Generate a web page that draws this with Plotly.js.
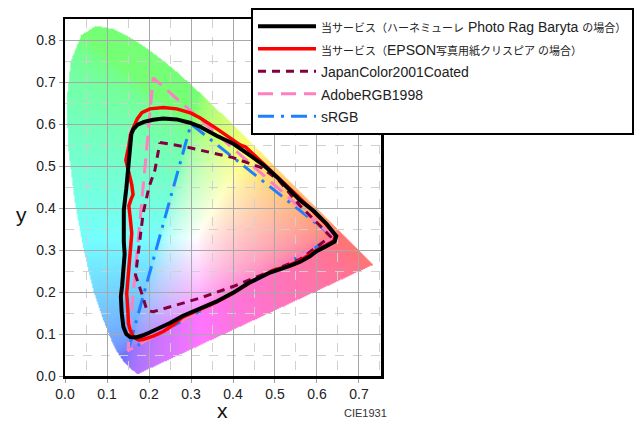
<!DOCTYPE html>
<html>
<head>
<meta charset="utf-8">
<script src="https://cdn.plot.ly/plotly-3.0.1.min.js"></script>
<style>html,body{margin:0;padding:0;background:#fff;}#chart{width:640px;height:425px;}</style>
</head>
<body>
<div id="chart"></div>
<script>
// ---- Data ----
// CIE 1931 spectral locus (chromaticity x, y)
const LOCUS_X = [0.1741,0.1733,0.1714,0.1689,0.1644,0.1566,0.1510,0.1440,0.1355,0.1241,0.1096,0.0913,0.0687,0.0454,0.0235,0.0082,0.0039,0.0139,0.0389,0.0743,0.1142,0.1547,0.1929,0.2296,0.2658,0.3016,0.3373,0.3731,0.4087,0.4441,0.4788,0.5125,0.5448,0.5752,0.6029,0.6270,0.6482,0.6658,0.6915,0.7079,0.7190,0.7260,0.7300,0.7334,0.7347];
const LOCUS_Y = [0.0050,0.0048,0.0051,0.0069,0.0109,0.0177,0.0227,0.0297,0.0399,0.0578,0.0868,0.1327,0.2007,0.2950,0.4127,0.5384,0.6548,0.7502,0.8120,0.8338,0.8262,0.8059,0.7816,0.7543,0.7243,0.6923,0.6589,0.6245,0.5896,0.5547,0.5202,0.4866,0.4544,0.4242,0.3965,0.3725,0.3514,0.3340,0.3083,0.2920,0.2809,0.2740,0.2700,0.2666,0.2653];

// 当サービス（ハーネミューレ Photo Rag Baryta の場合）
const BARYTA_X = [0.158,0.163,0.172,0.188,0.210,0.234,0.266,0.297,0.321,0.361,0.401,0.440,0.472,0.504,0.536,0.560,0.591,0.623,0.646,0.642,0.620,0.600,0.583,0.560,0.540,0.510,0.490,0.440,0.400,0.360,0.320,0.280,0.250,0.226,0.200,0.186,0.170,0.155,0.146,0.141,0.139,0.135,0.133,0.136,0.139,0.142,0.140,0.139,0.140,0.146,0.150,0.154,0.158];
const BARYTA_Y = [0.576,0.588,0.598,0.605,0.610,0.613,0.611,0.603,0.594,0.572,0.553,0.527,0.503,0.474,0.443,0.418,0.394,0.362,0.333,0.320,0.308,0.298,0.285,0.272,0.264,0.255,0.247,0.223,0.198,0.177,0.159,0.143,0.126,0.114,0.103,0.097,0.092,0.093,0.100,0.112,0.117,0.150,0.190,0.215,0.255,0.290,0.320,0.365,0.395,0.447,0.494,0.540,0.576];

// 当サービス（EPSON写真用紙クリスピア の場合）
const EPSON_X = [0.152,0.156,0.163,0.172,0.183,0.202,0.234,0.266,0.300,0.321,0.361,0.401,0.417,0.430,0.472,0.504,0.544,0.583,0.623,0.644,0.640,0.600,0.560,0.520,0.500,0.480,0.440,0.400,0.360,0.320,0.280,0.258,0.234,0.210,0.186,0.175,0.163,0.155,0.151,0.150,0.147,0.151,0.155,0.159,0.155,0.152,0.157,0.162,0.159,0.151,0.145,0.147,0.152];
const EPSON_Y = [0.548,0.575,0.592,0.612,0.627,0.636,0.639,0.636,0.626,0.615,0.589,0.562,0.550,0.545,0.506,0.478,0.438,0.400,0.360,0.335,0.322,0.300,0.275,0.258,0.253,0.243,0.222,0.197,0.176,0.158,0.140,0.122,0.106,0.095,0.087,0.086,0.093,0.110,0.125,0.149,0.197,0.244,0.292,0.340,0.379,0.405,0.420,0.432,0.455,0.486,0.514,0.525,0.548];

// JapanColor2001Coated
const JAPAN_X = [0.226,0.290,0.400,0.470,0.510,0.560,0.610,0.632,0.600,0.560,0.480,0.400,0.320,0.240,0.210,0.195,0.185,0.168,0.175,0.186,0.200,0.214,0.226];
const JAPAN_Y = [0.556,0.545,0.520,0.495,0.465,0.405,0.355,0.332,0.308,0.278,0.245,0.213,0.185,0.162,0.153,0.156,0.190,0.240,0.300,0.387,0.450,0.490,0.556];

// AdobeRGB1998
const ADOBE_X = [0.64,0.21,0.15,0.64];
const ADOBE_Y = [0.33,0.71,0.06,0.33];

// sRGB
const SRGB_X = [0.64,0.30,0.15,0.64];
const SRGB_Y = [0.33,0.60,0.06,0.33];

const X_RANGE = [0, 0.7524];
const Y_RANGE = [0, 0.85];
const TICK_STEP = 0.1;
const MINOR_STEP = 0.05;

const CJK = s => '<span style="font-size:11px">' + s + '</span>';
const LAT = s => '<span style="font-size:14px">' + s + '</span>';
const NAMES = [
  CJK('当サービス（ハーネミューレ') + LAT(' Photo Rag Baryta ') + CJK('の場合）'),
  CJK('当サービス（') + LAT('EPSON') + CJK('写真用紙クリスピア の場合）'),
  LAT('JapanColor2001Coated'), LAT('AdobeRGB1998'), LAT('sRGB')
];

// ---- Chromaticity background (colour of each xy inside the locus), drawn to a canvas ----
function inside(px, py) {
  let c = false;
  const n = LOCUS_X.length;
  for (let i = 0, j = n - 1; i < n; j = i++) {
    const xi = LOCUS_X[i], yi = LOCUS_Y[i], xj = LOCUS_X[j], yj = LOCUS_Y[j];
    if (((yi > py) !== (yj > py)) && (px < (xj - xi) * (py - yi) / (yj - yi) + xi)) c = !c;
  }
  return c;
}
function gam(c){ return c <= 0.0031308 ? 12.92*c : 1.055*Math.pow(c,1/2.4)-0.055; }
function xyColor(x, y) {
  const X = x / y, Y = 1, Z = (1 - x - y) / y;
  let r = 3.2406*X - 1.5372*Y - 0.4986*Z;
  let g = -0.9689*X + 1.8758*Y + 0.0415*Z;
  let b = 0.0557*X - 0.2040*Y + 1.0570*Z;
  r = Math.max(r,0); g = Math.max(g,0); b = Math.max(b,0);
  const m = Math.max(r,g,b) || 1;
  const w = 0.38;
  return [r/m, g/m, b/m].map(c => Math.round(255*(gam(c)*(1-w)+w)));
}
const STEP = 0.0025;
const NX = Math.round(X_RANGE[1]/STEP), NY = Math.round(Y_RANGE[1]/STEP);
let BG_URL = '';
try {
  const cv = document.createElement('canvas');
  cv.width = NX; cv.height = NY;
  const ctx = cv.getContext('2d');
  const img = ctx.createImageData(NX, NY);
  for (let j = 0; j < NY; j++) {
    const yy = Y_RANGE[1] - (j + 0.5) * STEP;
    for (let i = 0; i < NX; i++) {
      const xx = (i + 0.5) * STEP;
      const k = 4 * (j * NX + i);
      if (inside(xx, yy)) {
        const c = xyColor(xx, yy);
        img.data[k] = c[0]; img.data[k+1] = c[1]; img.data[k+2] = c[2]; img.data[k+3] = 225;
      }
    }
  }
  ctx.putImageData(img, 0, 0);
  BG_URL = cv.toDataURL('image/png');
} catch (e) { console.log(e); }

const FONT = '"Liberation Sans", Arial, "Noto Sans CJK JP", sans-serif';

const traces = [
  {type:'scatter', mode:'lines', name:NAMES[4], x:SRGB_X, y:SRGB_Y, line:{color:'#1f7fff', width:3, dash:'16px,7px,3px,7px'}},
  {type:'scatter', mode:'lines', name:NAMES[3], x:ADOBE_X, y:ADOBE_Y, line:{color:'#ff80c0', width:3, dash:'15px,8px'}},
  {type:'scatter', mode:'lines', name:NAMES[2], x:JAPAN_X, y:JAPAN_Y, line:{color:'#800040', width:3, dash:'8px,6px'}},
  {type:'scatter', mode:'lines', name:NAMES[1], x:EPSON_X, y:EPSON_Y, line:{color:'#ff0000', width:3.5}},
  {type:'scatter', mode:'lines', name:NAMES[0], x:BARYTA_X, y:BARYTA_Y, line:{color:'#000000', width:4}}
];

function axis(range) {
  return {
    range:range, autorange:false, fixedrange:true,
    tickmode:'linear', tick0:0, dtick:TICK_STEP, tickformat:'.1f',
    showline:true, mirror:true, linecolor:'#000', linewidth:2.5,
    showgrid:true, gridcolor:'#a8a8a8', gridwidth:1,
    ticks:'outside', ticklen:4, tickcolor:'#a0a0a0',
    zeroline:false,
    tickfont:{family:FONT, size:14, color:'#222'},
    minor:{dtick:MINOR_STEP, showgrid:true, gridcolor:'#d0d0d0', griddash:'dash'}
  };
}

const layout = {
  width:640, height:425, autosize:false,
  margin:{l:65, r:259, t:19, b:49, pad:0, autoexpand:false},
  paper_bgcolor:'#fff', plot_bgcolor:'#fff',
  font:{family:FONT, color:'#222'},
  xaxis:axis(X_RANGE),
  yaxis:axis(Y_RANGE),
  showlegend:true,
  legend:{
    x:(251-65)/316, y:(376-8)/357, xanchor:'left', yanchor:'top',
    bgcolor:'#fff', bordercolor:'#000', borderwidth:2,
    font:{family:FONT, size:15, color:'#222'},
    traceorder:'reversed', itemwidth:58, tracegroupgap:0
  },
  images: BG_URL ? [{source:BG_URL, xref:'x', yref:'y', x:0, y:Y_RANGE[1], sizex:NX*STEP, sizey:NY*STEP, sizing:'stretch', xanchor:'left', yanchor:'top', layer:'below'}] : [],
  annotations:[
    {text:'x', xref:'paper', yref:'paper', x:(222-65)/316, y:(376-410)/357, showarrow:false, font:{family:FONT, size:21, color:'#111'}, xanchor:'center', yanchor:'middle'},
    {text:'y', xref:'paper', yref:'paper', x:(21-65)/316, y:(376-214)/357, showarrow:false, font:{family:FONT, size:21, color:'#111'}, xanchor:'center', yanchor:'middle'},
    {text:'CIE1931', xref:'paper', yref:'paper', x:(365-65)/316, y:(376-413)/357, showarrow:false, font:{family:FONT, size:11, color:'#333'}, xanchor:'center', yanchor:'middle'}
  ]
};

Plotly.newPlot('chart', traces, layout, {staticPlot:true, displayModeBar:false});
</script>
</body>
</html>
